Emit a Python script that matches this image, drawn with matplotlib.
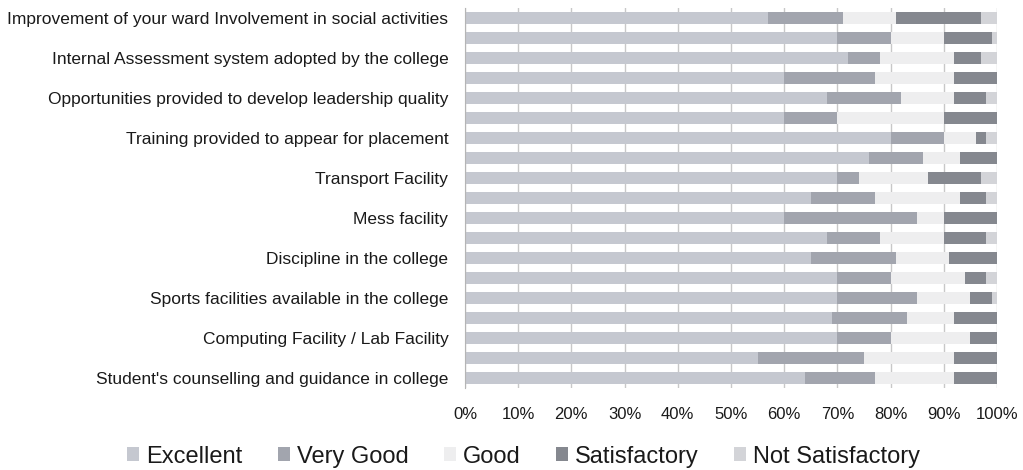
import matplotlib
matplotlib.use("Agg")
import matplotlib.pyplot as plt
from matplotlib.ticker import PercentFormatter
import numpy as np

plt.rcParams['font.family'] = ['Liberation Sans', 'DejaVu Sans']

# labels shown on every second row, top to bottom
labels = [
    "Improvement of your ward Involvement in social activities",
    "Internal Assessment system adopted by the college",
    "Opportunities provided to develop leadership quality",
    "Training provided to appear for placement",
    "Transport Facility",
    "Mess facility",
    "Discipline in the college",
    "Sports facilities available in the college",
    "Computing Facility / Lab Facility",
    "Student's counselling and guidance in college",
]

# percentage of responses per question, top row first
excellent        = [57, 70, 72, 60, 68, 60, 80, 76, 70, 65, 60, 68, 65, 70, 70, 69, 70, 55, 64]
very_good        = [14, 10,  6, 17, 14, 10, 10, 10,  4, 12, 25, 10, 16, 10, 15, 14, 10, 20, 13]
good             = [10, 10, 14, 15, 10, 20,  6,  7, 13, 16,  5, 12, 10, 14, 10,  9, 15, 17, 15]
satisfactory     = [16,  9,  5,  8,  6, 10,  2,  7, 10,  5, 10,  8,  9,  4,  4,  8,  5,  8,  8]
not_satisfactory = [ 3,  1,  3,  0,  2,  0,  2,  0,  3,  2,  0,  2,  0,  2,  1,  0,  0,  0,  0]

series = [
    ("Excellent", excellent, "#c5c8d0"),
    ("Very Good", very_good, "#a2a5ae"),
    ("Good", good, "#eeeeef"),
    ("Satisfactory", satisfactory, "#85888f"),
    ("Not Satisfactory", not_satisfactory, "#d3d4d8"),
]

fig = plt.figure(figsize=(10.23, 4.70), dpi=100)
ax = fig.add_axes([0.4545, 0.1745, 0.5201, 0.8085])

y = np.arange(len(excellent))
left = np.zeros(len(excellent))
for name, vals, col in series:
    vals = np.array(vals, dtype=float)
    ax.barh(y, vals, left=left, height=0.62, color=col, label=name, zorder=2)
    left += vals

ax.set_xlim(0, 100)
ax.set_ylim(len(excellent) - 0.5, -0.5)
ax.set_xticks(np.arange(0, 101, 10))
ax.xaxis.set_major_formatter(PercentFormatter(decimals=0))
ax.set_yticks(y[::2])
ax.set_yticklabels(labels)

ax.grid(axis='x', color='#c8c8c8', linewidth=1.0, zorder=0)
for s in ['top', 'right', 'bottom']:
    ax.spines[s].set_visible(False)
ax.spines['left'].set_color('#b5b5b5')
ax.tick_params(axis='y', length=0, pad=12, labelsize=12.5, labelcolor='#1a1a1a')
ax.tick_params(axis='x', length=0, pad=14, labelsize=12, labelcolor='#1a1a1a')

fig.legend(loc='lower center', bbox_to_anchor=(0.512, -0.04), ncol=5, frameon=False,
           fontsize=17, handlelength=0.5, handleheight=0.5, handletextpad=0.3,
           columnspacing=1.5, labelcolor='#1a1a1a')

fig.savefig("out.png", dpi=100)
